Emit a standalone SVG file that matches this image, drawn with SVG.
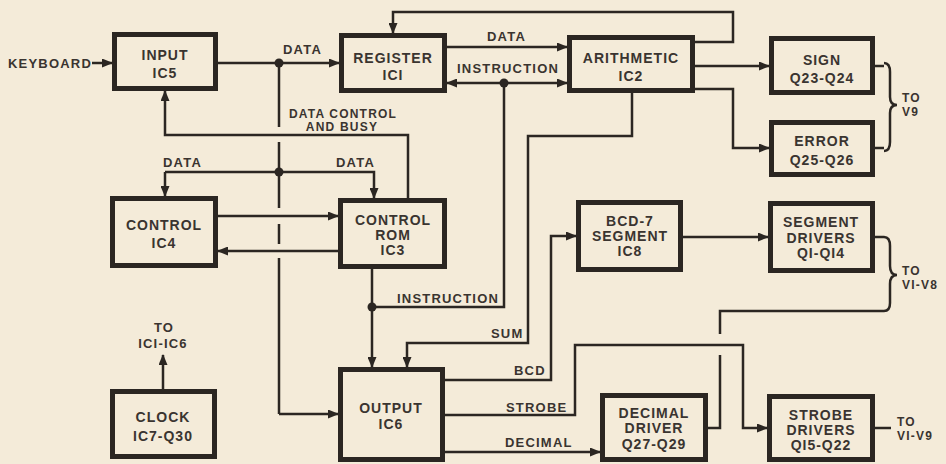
<svg xmlns="http://www.w3.org/2000/svg" width="946" height="464" viewBox="0 0 946 464">
<style>
.box{fill:none;stroke:#2b2622;stroke-width:5}
.ln{fill:none;stroke:#2b2622;stroke-width:2.5}
.a{marker-end:url(#arr)}
.dot{fill:#2b2622}
.t{font-family:"Liberation Sans",Arial,sans-serif;font-weight:bold;font-size:14px;fill:#3a3430;letter-spacing:1px;text-anchor:middle}
.l{font-family:"Liberation Sans",Arial,sans-serif;font-weight:bold;font-size:13px;fill:#3a3430;letter-spacing:1.2px}
.s{font-size:12px}
</style>
<defs>
<marker id="arr" markerUnits="userSpaceOnUse" markerWidth="11" markerHeight="9" refX="10" refY="4.5" orient="auto-start-reverse" viewBox="0 0 11 9">
<path d="M0,0 L11,4.5 L0,9 z" fill="#2b2622"/>
</marker>
</defs>
<rect width="946" height="464" fill="#f4ebd9"/>

<g id="connectors">
<path class="ln a" d="M92,63 H112"/>
<path class="ln a" d="M218,63 H339"/>
<path class="ln" d="M279,63 V127 M279,142 V208 M279,224 V244 M279,258 V414"/>
<path class="ln a" d="M279,414 H338"/>
<path class="ln a" d="M408,198 V135 H165 V91"/>
<path class="ln a" d="M165,172 V196"/>
<path class="ln a" d="M165,172 H374 V198"/>
<path class="ln a" d="M218,216 H338"/>
<path class="ln a" d="M338,251 H218"/>
<path class="ln a" d="M372,269 V367"/>
<path class="ln" d="M372,307 H504 V83"/>
<path class="ln a" style="marker-start:url(#arr)" d="M447,83 H567"/>
<path class="ln a" d="M447,47 H567"/>
<path class="ln a" d="M695,42 H733 V12 H393 V33"/>
<path class="ln a" d="M695,66 H769"/>
<path class="ln a" d="M695,89 H733 V148 H769"/>
<path class="ln" d="M875,66 H884 M875,148 H884"/>
<path class="ln" d="M884,63 Q890,63 890,72 V97 Q890,105 897,105 Q890,105 890,113 V142 Q890,151 884,151"/>
<path class="ln a" d="M632,93 V136 H528 V343 H407 V367"/>
<path class="ln a" d="M445,380 H551 V236 H576"/>
<path class="ln a" d="M683,237 H768"/>
<path class="ln" d="M875,237 H884"/>
<path class="ln" d="M884,237 Q890,237 890,246 V266 Q890,275 897,275 Q890,275 890,284 V303 Q890,311 884,311"/>
<path class="ln" d="M708,428 H720 V355 M720,334 V311 H884"/>
<path class="ln a" d="M445,415 H575 V345 H743 V428 H767"/>
<path class="ln a" d="M445,452 H600"/>
<path class="ln" d="M875,428 H891"/>
<path class="ln a" d="M163,389 V355"/>
<circle class="dot" cx="279" cy="63" r="4.5"/>
<circle class="dot" cx="279" cy="172" r="4.5"/>
<circle class="dot" cx="372" cy="307" r="4.5"/>
<circle class="dot" cx="504" cy="83" r="4.5"/>
</g>

<g id="labels">
<text class="l" x="8" y="68">KEYBOARD</text>
<text class="l" x="283" y="54">DATA</text>
<text class="l" x="487" y="41">DATA</text>
<text class="l" x="457" y="73">INSTRUCTION</text>
<text class="l s" x="343" y="118" text-anchor="middle">DATA CONTROL</text>
<text class="l s" x="342" y="131" text-anchor="middle">AND BUSY</text>
<text class="l" x="163" y="167">DATA</text>
<text class="l" x="336" y="167">DATA</text>
<text class="l" x="397" y="303">INSTRUCTION</text>
<text class="l" x="491" y="338">SUM</text>
<text class="l" x="514" y="375">BCD</text>
<text class="l" x="506" y="412">STROBE</text>
<text class="l" x="505" y="447">DECIMAL</text>
<text class="l" x="164" y="332" text-anchor="middle">TO</text>
<text class="l" x="163" y="348" text-anchor="middle">ICI-IC6</text>
<text class="l s" x="902" y="102">TO</text>
<text class="l s" x="902" y="116">V9</text>
<text class="l s" x="902" y="275">TO</text>
<text class="l s" x="902" y="289">VI-V8</text>
<text class="l s" x="897" y="426">TO</text>
<text class="l s" x="897" y="440">VI-V9</text>
</g>

<g id="input"><rect class="box" x="114.5" y="34.5" width="101" height="54"/><text class="t" x="165" y="60">INPUT</text><text class="t" x="165" y="78">IC5</text></g>
<g id="register"><rect class="box" x="341.5" y="35.5" width="103" height="55"/><text class="t" x="393" y="63">REGISTER</text><text class="t" x="393" y="80">ICI</text></g>
<g id="arithmetic"><rect class="box" x="569.5" y="37.5" width="123" height="53"/><text class="t" x="631" y="63">ARITHMETIC</text><text class="t" x="631" y="81">IC2</text></g>
<g id="sign"><rect class="box" x="771.5" y="38.5" width="101" height="54"/><text class="t" x="822" y="65">SIGN</text><text class="t" x="822" y="83">Q23-Q24</text></g>
<g id="error"><rect class="box" x="771.5" y="122.5" width="101" height="52"/><text class="t" x="822" y="146">ERROR</text><text class="t" x="822" y="165">Q25-Q26</text></g>
<g id="control"><rect class="box" x="112.5" y="198.5" width="103" height="67"/><text class="t" x="164" y="230">CONTROL</text><text class="t" x="164" y="248">IC4</text></g>
<g id="control-rom"><rect class="box" x="340.5" y="200.5" width="104" height="66"/><text class="t" x="393" y="225">CONTROL</text><text class="t" x="393" y="240">ROM</text><text class="t" x="393" y="255">IC3</text></g>
<g id="bcd7"><rect class="box" x="578.5" y="202.5" width="102" height="67"/><text class="t" x="630" y="226">BCD-7</text><text class="t" x="630" y="241">SEGMENT</text><text class="t" x="630" y="256">IC8</text></g>
<g id="segment-drivers"><rect class="box" x="770.5" y="203.5" width="102" height="67"/><text class="t" x="821" y="227">SEGMENT</text><text class="t" x="821" y="243">DRIVERS</text><text class="t" x="821" y="258">QI-QI4</text></g>
<g id="clock"><rect class="box" x="112.5" y="391.5" width="102" height="65"/><text class="t" x="163" y="422">CLOCK</text><text class="t" x="163" y="441">IC7-Q30</text></g>
<g id="output"><rect class="box" x="340.5" y="369.5" width="102" height="90"/><text class="t" x="391" y="413">OUTPUT</text><text class="t" x="391" y="429">IC6</text></g>
<g id="decimal-driver"><rect class="box" x="602.5" y="395.5" width="103" height="64"/><text class="t" x="654" y="418">DECIMAL</text><text class="t" x="654" y="433">DRIVER</text><text class="t" x="654" y="449">Q27-Q29</text></g>
<g id="strobe-drivers"><rect class="box" x="769.5" y="396.5" width="103" height="63"/><text class="t" x="821" y="420">STROBE</text><text class="t" x="821" y="435">DRIVERS</text><text class="t" x="821" y="450">QI5-Q22</text></g>
</svg>
